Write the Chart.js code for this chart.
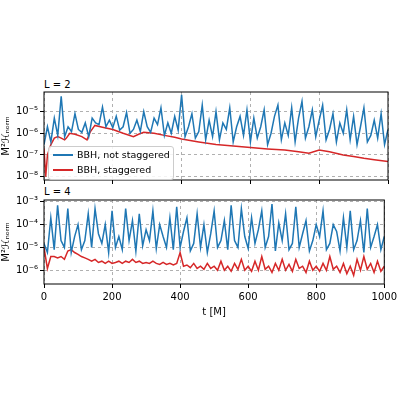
<!DOCTYPE html>
<html><head><meta charset="utf-8">
<script src="https://cdn.jsdelivr.net/npm/chart.js@4"></script>
<style>
body{margin:0;background:#fff;font-family:"DejaVu Sans",sans-serif;}
canvas{position:absolute;left:0;}
.lbl{position:absolute;font-size:10px;color:#000;}
#legend{position:absolute;left:48px;top:146px;width:124px;height:32px;background:rgba(255,255,255,0.85);border:1px solid #ccc;border-radius:3px;font-size:9.5px;}
#legend div{position:relative;height:15px;line-height:15px;padding-left:28px;}
#legend span{position:absolute;left:4px;top:7px;width:20px;height:2px;}
</style></head><body>
<div class="lbl" style="left:44px;top:79px">L = 2</div>
<div class="lbl" style="left:44px;top:186px">L = 4</div>
<canvas id="c1" style="top:84px"></canvas>
<canvas id="c2" style="top:192px"></canvas>
<div id="legend"><div><span style="background:#1f77b4"></span>BBH, not staggered</div><div><span style="background:#d62728"></span>BBH, staggered</div></div>
<script>
const tBlue=[0,10,20,30,40,50,60,70,80,90,100,110,120,130,140,150,160,170,180,190,200,210,220,230,240,250,260,270,280,290,300,310,320,330,340,350,360,370,380,390,400,410,420,430,440,450,460,470,480,490,500,510,520,530,540,550,560,570,580,590,600,610,620,630,640,650,660,670,680,690,700,710,720,730,740,750,760,770,780,790,800,810,820,830,840,850,860,870,880,890,900,910,920,930,940,950,960,970,980,990,1000];
const L2Blue=[3e-7,2e-6,4e-7,5e-6,8e-7,5e-5,7e-7,2e-6,1.2e-6,8e-6,
1.5e-6,1.1e-6,3e-6,7e-7,5e-6,3e-6,2.5e-6,1.6e-5,2e-6,4e-6,
1.8e-6,6e-6,1.4e-6,2e-6,9e-6,1e-6,1.5e-6,4e-6,1.2e-6,1e-5,
2e-6,1.1e-6,5e-6,2.5e-6,1.5e-5,8e-7,3e-6,1e-6,6e-6,1.4e-6,
6e-5,7e-7,2e-6,8e-6,6e-7,1.2e-6,2e-5,5e-7,4e-6,7e-7,
1e-5,5e-7,3e-6,1.5e-6,1.5e-5,4e-7,2e-6,6e-6,8e-7,1.2e-5,
4e-7,5e-6,6e-7,2e-6,1.2e-5,3e-7,1e-6,6e-6,2e-5,5e-7,
3e-6,8e-7,1.5e-5,4e-7,5e-6,3e-5,6e-7,2e-6,1.2e-5,7e-7,
4e-6,2e-5,5e-7,1.5e-6,8e-6,4e-7,3e-6,1e-6,1.2e-5,5e-7,
6e-6,3e-7,2e-6,1.5e-5,4e-7,8e-7,4e-6,6e-7,8e-6,3e-7,1.5e-6];
const tRedL2=[0,5,10,20,30,40,50,60,65,75,90,110,125,135,148,170,200,230,260,275,290,320,350,380,400,450,500,550,600,650,700,740,770,800,830,870,900,930,960,1000];
const L2Red=[2e-7,1e-8,1e-7,3e-7,6e-7,7e-7,6e-7,5e-7,6e-7,1e-6,9e-7,7e-7,5e-7,1.2e-6,2.3e-6,1.9e-6,1.5e-6,1e-6,7e-7,9e-7,1.1e-6,1e-6,8e-7,6.5e-7,5.5e-7,4e-7,3e-7,2.6e-7,2.2e-7,1.9e-7,1.7e-7,1.4e-7,1.2e-7,1.7e-7,1.4e-7,1e-7,8.5e-8,7e-8,6e-8,5e-8];
const L4Blue=[1.5e-5,6e-6,2e-4,8e-6,7e-4,2e-5,1e-5,5e-4,6e-6,3e-5,
1e-4,8e-6,2e-5,3e-4,1e-5,5e-4,4e-5,1.5e-5,1e-4,6e-6,
4e-4,1e-5,3e-5,8e-6,5e-4,2e-5,1.5e-4,7e-6,3e-4,1.2e-5,
6e-5,2e-5,4e-4,9e-6,1e-4,3e-5,1e-5,2e-4,8e-6,6e-4,
1e-5,5e-5,2e-4,7e-6,1.5e-5,3e-4,1e-5,1e-4,6e-6,4e-5,
4e-4,1e-5,2e-5,1.5e-4,8e-6,7e-4,2e-5,1e-5,5e-4,3e-5,
9e-6,2e-4,1.5e-5,6e-5,4e-4,1e-5,3e-5,8e-4,7e-6,1.2e-4,
2e-5,3e-4,8e-6,1.5e-5,6e-4,1e-5,4e-5,1.5e-4,7e-6,2e-5,
1e-4,3e-5,4e-4,8e-6,1.5e-5,1e-4,5e-5,7e-6,2e-4,1e-5,
4e-4,8e-6,2e-5,1.5e-4,6e-6,5e-4,1e-5,3e-5,1e-4,8e-6,3e-5];
const L4Red=[1e-5,1.2e-6,4e-6,4e-6,3.5e-6,4e-6,3e-6,7e-6,8e-6,6e-6,5e-6,4e-6,3.5e-6,3e-6,2.5e-6,3e-6,2.2e-6,2.5e-6,2e-6,2.5e-6,2e-6,2.2e-6,2.5e-6,2e-6,2.5e-6,2.2e-6,3e-6,2.2e-6,2.5e-6,2e-6,2.2e-6,2e-6,2.5e-6,2e-6,1.8e-6,2.2e-6,1.8e-6,2e-6,1.7e-6,2e-6,6e-6,1.5e-6,1.7e-6,1.3e-6,2e-6,1.2e-6,1.5e-6,1.1e-6,2e-6,1.2e-6,1.5e-6,1e-6,2.5e-6,1e-6,1.5e-6,9e-7,2e-6,1.1e-6,3e-6,1e-6,1.5e-6,9e-7,2.5e-6,1e-6,4e-6,1.1e-6,1.5e-6,8e-7,2e-6,1e-6,3e-6,1e-6,1.8e-6,9e-7,3e-6,1.2e-6,1.5e-6,8e-7,2.5e-6,1e-6,1.5e-6,9e-7,2e-6,1e-6,4e-6,1.1e-6,1.5e-6,8e-7,2e-6,7e-7,1.5e-6,6e-7,3e-6,1e-6,4e-6,1.1e-6,2e-6,8e-7,2.5e-6,9e-7,1.5e-6,6e-7];
const xTicks=[0,200,400,600,800,1000];
const sup={'-':'⁻','0':'⁰','1':'¹','2':'²','3':'³','4':'⁴','5':'⁵','6':'⁶','7':'⁷','8':'⁸','9':'⁹'};
function pow10(v){const e=Math.round(Math.log10(v));return '10'+String(e).split('').map(c=>sup[c]).join('');}
const box={id:'box',afterDraw(c){const a=c.chartArea,x=c.ctx;x.save();x.strokeStyle='#000';x.lineWidth=1;x.strokeRect(a.left,a.top,a.right-a.left,a.bottom-a.top);x.restore();}};
function pts(t,v){return t.map((x,i)=>({x:x,y:v[i]}));}
function make(id,h,blue,red,tRed,ymin,ymax,showX,padB){
 const cv=document.getElementById(id);cv.width=400;cv.height=h;cv.style.width='400px';cv.style.height=h+'px';
 new Chart(cv,{type:'line',plugins:[box],data:{datasets:[
  {data:pts(tBlue,blue),borderColor:'#1f77b4',borderWidth:1.5,pointRadius:0,tension:0},
  {data:pts(tRed,red),borderColor:'#d62728',borderWidth:1.5,pointRadius:0,tension:0}]},
 options:{responsive:false,animation:false,events:[],layout:{padding:{top:8,right:12,bottom:padB,left:0}},
  plugins:{legend:{display:false},tooltip:{enabled:false}},
  scales:{x:{type:'linear',min:0,max:1000,afterBuildTicks(s){s.ticks=xTicks.map(v=>({value:v}));},
    grid:{color:'#b0b0b0',tickLength:4,tickColor:'#000'},border:{display:false,dash:[3,3]},
    ticks:{display:showX,color:'#000',font:{family:'DejaVu Sans',size:10},maxRotation:0,callback:v=>String(v)},
    title:{display:showX,text:'t [M]',color:'#000',font:{family:'DejaVu Sans',size:10},padding:0}},
   y:{type:'logarithmic',min:ymin,max:ymax,
    afterBuildTicks(s){const t=[];for(let e=-9;e<=-2;e++){const v=Math.pow(10,e);if(v>=ymin&&v<=ymax)t.push({value:v,major:true});}s.ticks=t;},
    afterFit(s){s.width=44;},
    grid:{color:'#b0b0b0',tickLength:4,tickColor:'#000'},border:{display:false,dash:[3,3]},
    ticks:{color:'#000',font:{family:'DejaVu Sans',size:10},callback:v=>pow10(v),padding:2},
    title:{display:true,text:'M²ℋₙₒᵣₘ',color:'#000',font:{family:'DejaVu Sans',size:10},padding:0}}}}});
}
make('c1',104,L2Blue,L2Red,tRedL2,7e-9,8e-5,false,4);
make('c2',130,L4Blue,L4Red,tBlue,2.5e-7,1.2e-3,true,4);
</script></body></html>
